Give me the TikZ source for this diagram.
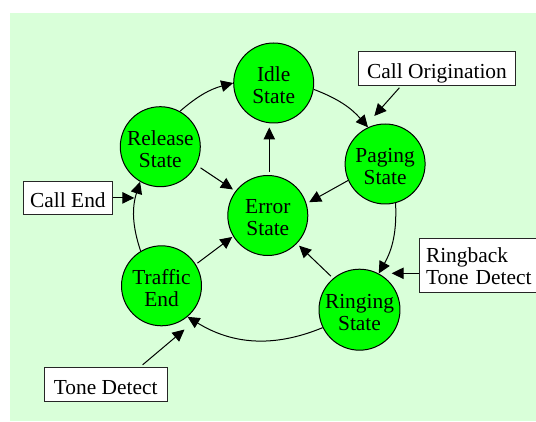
\documentclass[tikz,border=0pt]{standalone}
\usepackage{fontspec}
\setmainfont{Liberation Serif}
\usetikzlibrary{arrows.meta,calc}

\definecolor{panel}{RGB}{217,255,217}
\definecolor{stategreen}{RGB}{0,255,0}

% struts that set where the lines sit inside circles and boxes
\newcommand\firstline{\rule{0pt}{20pt}}
\newcommand\lastline{\rule[-1pt]{0pt}{1pt}}
\newcommand\boxstrut{\rule[-5.2pt]{0pt}{30.2pt}}

\begin{document}
\begin{tikzpicture}[x=1pt,y=1pt,
  state/.style={circle, draw=black, fill=stategreen, line width=1pt,
    minimum size=80pt, inner sep=0pt, align=center,
    font=\fontsize{21.4}{22}\selectfont},
  event/.style={rectangle, draw=black!85, fill=white, line width=1pt,
    inner sep=0pt, font=\fontsize{21.4}{22}\selectfont},
  flow/.style={line width=1pt, -{Triangle[length=12pt,width=11.5pt]}},
]
\useasboundingbox (0,0) rectangle (536,421);
\fill[panel] (10,0) rectangle (536,408);

% states
\node[state] (idle)    at (273.7,338)   {\firstline Idle\\State\lastline};
\node[state] (release) at (160.3,274.3) {\firstline Release\\State\lastline};
\node[state] (paging)  at (385.1,257)   {\firstline Paging\\State\lastline};
\node[state] (error)   at (267.8,205.5) {\firstline Error\\State\lastline};
\node[state] (traffic) at (161.5,135.2) {\firstline Traffic\\End\lastline};
\node[state] (ringing) at (359.5,111.3) {\firstline Ringing\\State\lastline};

% external events
\node[event, minimum width=157.4pt, minimum height=34.7pt] (orig)
  at (437,352.6) {\boxstrut Call Origination};
\node[event, minimum width=88.5pt, minimum height=33.7pt] (callend)
  at (67.9,223.1) {\boxstrut Call End};
\node[event, minimum width=122.7pt, minimum height=34.4pt] (tonedet)
  at (105.65,36.5) {\boxstrut Tone Detect};
\node[event, anchor=west, text width=110pt, align=left, inner xsep=7pt,
  minimum height=53.7pt] (ringback) at (418.5,155.15)
  {\firstline Ringback\\Tone Detect\rule[-5pt]{0pt}{5pt}};

% main cycle
\draw[flow] (release.61)  to[bend left=13] (idle.180);
\draw[flow] (idle.-9)     to[bend left=14] (paging.115);
\draw[flow] (paging.-75)  to[bend left=16] (ringing.62);
\draw[flow] (ringing.206) to[bend left=27] (traffic.-50);
\draw[flow] (traffic.121) to[bend left=18] (release.240);

% transitions into and out of the error state
\draw[flow, shorten <=5pt, shorten >=3pt] (release.-27) -- (error.143);
\draw[flow, shorten >=3pt] (paging.204) -- (error.17);
\draw[flow, shorten <=3pt, shorten >=3pt] (ringing.130) -- (error.-44);
\draw[flow, shorten <=2pt, shorten >=1pt] (traffic.32) -- (error.211);
\draw[flow, shorten <=3pt, shorten >=4pt]
  ([xshift=1.5pt]error.north) -- ([xshift=1.5pt]error.north |- idle.south);

% event triggers
\coordinate (origin-tip) at (374.3,305);
\coordinate (end-tip)    at (134.3,223.1);
\coordinate (rb-tip)     at (391.7,147.7);
\coordinate (tone-tip)   at (184.5,91.5);
\draw[flow, shorten <=2pt] ($(orig.south west)!0.271!(orig.south east)$) -- (origin-tip);
\draw[flow] (callend.east) -- (end-tip);
\draw[flow] (ringback.west |- rb-tip) -- (rb-tip);
\draw[flow, shorten <=3pt] ($(tonedet.north west)!0.78!(tonedet.north east)$) -- (tone-tip);
\end{tikzpicture}
\end{document}
